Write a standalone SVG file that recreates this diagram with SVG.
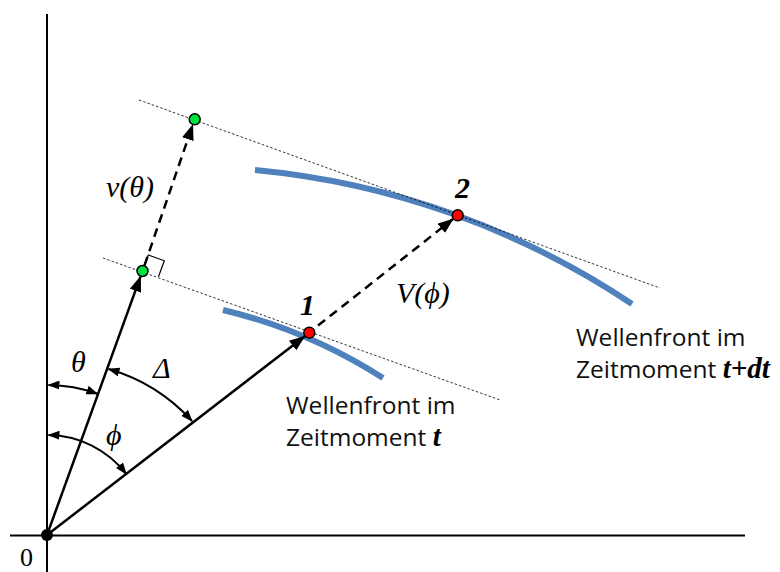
<svg xmlns="http://www.w3.org/2000/svg" width="780" height="572" viewBox="0 0 780 572">
<style>
.axis{stroke:#000;stroke-width:2;fill:none}
.vec{stroke:#000;stroke-width:2.5;fill:none}
.dash{stroke:#000;stroke-width:2.5;fill:none;stroke-dasharray:9,6}
.dot{stroke:#000;stroke-width:0.8;fill:none;stroke-dasharray:2.5,2}
.arc{stroke:#000;stroke-width:2;fill:none}
.front{stroke:#4F81BD;stroke-width:6;fill:none}
.math{font-family:"Liberation Serif","DejaVu Serif",serif;font-style:italic;font-size:30px;fill:#000}
.num{font-family:"Liberation Serif","DejaVu Serif",serif;font-style:italic;font-weight:bold;font-size:30px;fill:#000}
.lbl{font-family:"Open Sans","Noto Sans",sans-serif;font-size:24.5px;fill:#111}
.bi{font-family:"Liberation Serif","DejaVu Serif",serif;font-style:italic;font-weight:bold;font-size:29px;fill:#000}
.pg{fill:#00E040;stroke:#000;stroke-width:1.5}
.pr{fill:#FF0000;stroke:#000;stroke-width:1.5}
</style>
<defs>
<marker id="ah" viewBox="0 0 16 12" refX="15" refY="6" markerWidth="16" markerHeight="12" orient="auto-start-reverse" markerUnits="userSpaceOnUse"><path d="M0,0 L16,6 L0,12 z" fill="#000"/></marker>
<marker id="as" viewBox="0 0 12 9" refX="11" refY="4.5" markerWidth="12" markerHeight="9" orient="auto-start-reverse" markerUnits="userSpaceOnUse"><path d="M0,0 L12,4.5 L0,9 z" fill="#000"/></marker>
</defs>

<g id="axes">
<line class="axis" x1="47" y1="14" x2="47" y2="572"/>
<line class="axis" x1="10" y1="535.5" x2="745" y2="535.5"/>
<circle cx="47" cy="535" r="6" fill="#000"/>
<text class="math" x="20" y="566" style="font-style:normal;font-size:26px">0</text>
</g>

<g id="wavefronts">
<path class="front" d="M223,310 A520,520 0 0,1 383,378"/>
<path class="front" d="M255,170 A816,816 0 0,1 632,304"/>
</g>

<g id="tangents">
<line class="dot" x1="103" y1="258" x2="500" y2="400"/>
<line class="dot" x1="139" y1="100" x2="660" y2="288"/>
</g>

<g id="connectors">
<line class="vec" x1="47" y1="535" x2="140.5" y2="276.6" marker-end="url(#ah)"/>
<line class="vec" x1="47" y1="535" x2="304.5" y2="336.4" marker-end="url(#ah)"/>
<line class="dash" x1="144.5" y1="265.3" x2="192.7" y2="125" marker-end="url(#ah)"/>
<line class="dash" x1="318" y1="325.6" x2="453" y2="219" marker-end="url(#ah)"/>
<path class="arc" d="M48.5,385 A150,150 0 0,1 97.5,393.8" marker-start="url(#as)" marker-end="url(#as)"/>
<path class="arc" d="M48.5,435 A100,100 0 0,1 126.2,473.9" marker-start="url(#as)" marker-end="url(#as)"/>
<path class="arc" d="M108.5,369 A180,180 0 0,1 192,421" marker-start="url(#as)" marker-end="url(#as)"/>
<path d="M142.5,271 L148.3,255 L164.3,260.8 L158.5,276.8" fill="none" stroke="#000" stroke-width="1.2"/>
</g>

<g id="points">
<circle class="pg" cx="142.5" cy="271" r="5.5"/>
<circle class="pg" cx="194.7" cy="119.3" r="5.5"/>
<circle class="pr" cx="309.3" cy="332.7" r="5.5"/>
<circle class="pr" cx="457.7" cy="215.3" r="5.5"/>
</g>

<g id="labels">
<text class="math" x="71" y="372">θ</text>
<text class="math" x="153" y="378">Δ</text>
<text class="math" x="106" y="445">ϕ</text>
<text class="math" x="106" y="197">v(θ)</text>
<text class="math" x="396" y="303">V(ϕ)</text>
<text class="num" x="300" y="315">1</text>
<text class="num" x="455" y="198">2</text>
<text class="lbl" x="286" y="414">Wellenfront im</text>
<text class="lbl" x="286" y="446">Zeitmoment <tspan class="bi">t</tspan></text>
<text class="lbl" x="576" y="346">Wellenfront im</text>
<text class="lbl" x="576" y="378">Zeitmoment <tspan class="bi">t+dt</tspan></text>
</g>
</svg>
